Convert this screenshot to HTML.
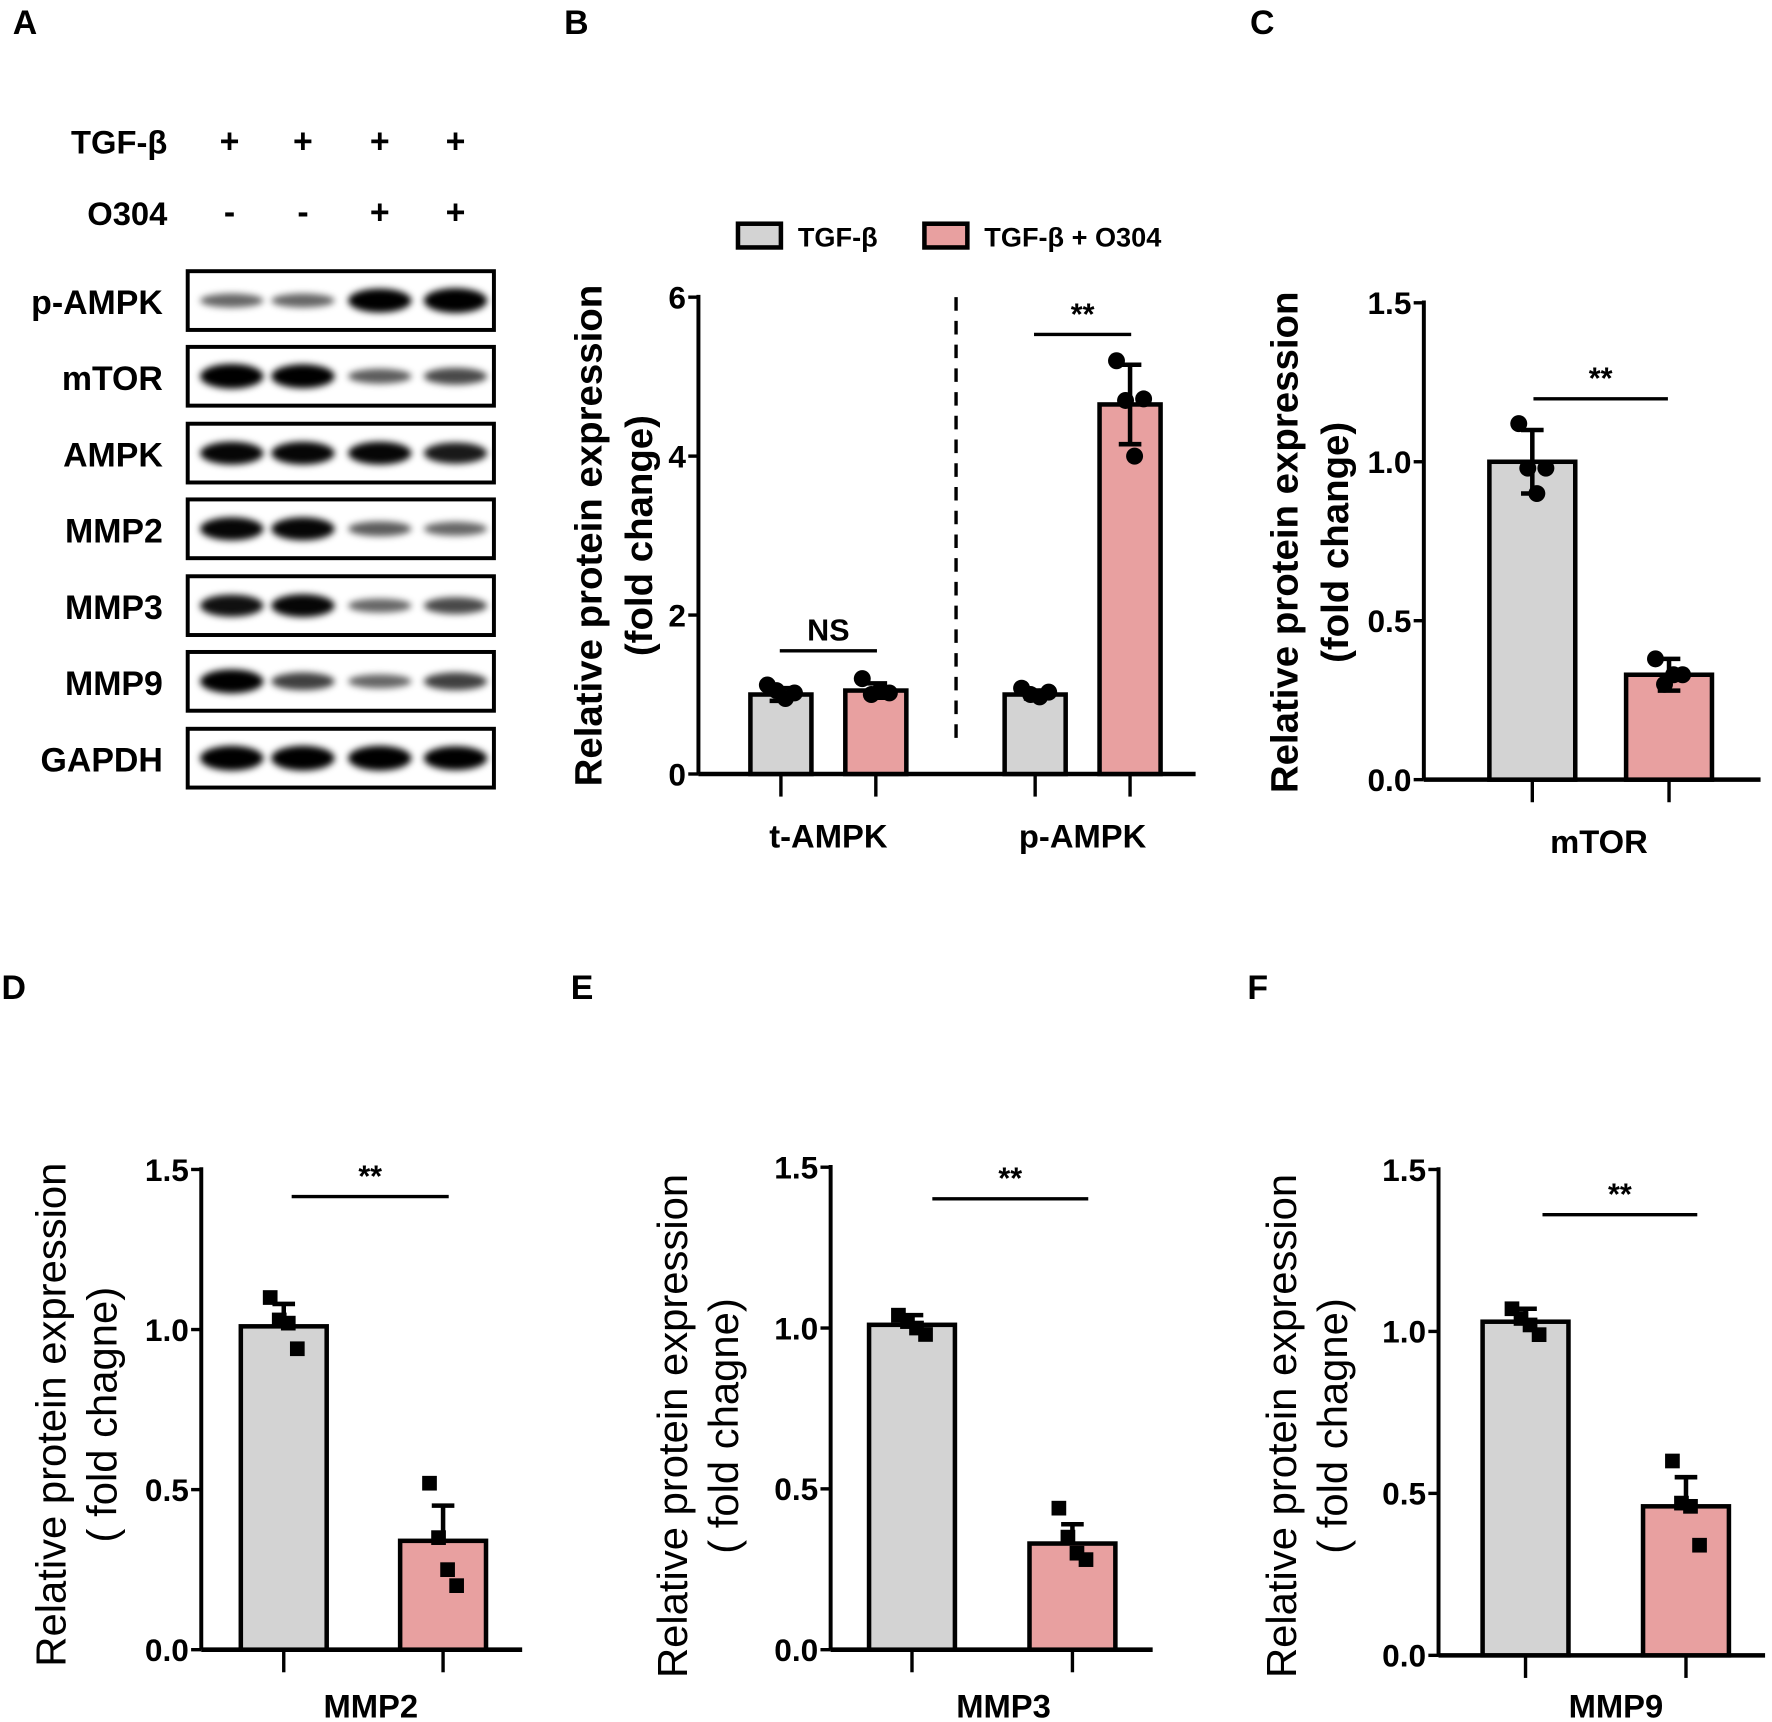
<!DOCTYPE html>
<html><head><meta charset="utf-8"><style>
html,body{margin:0;padding:0;background:#fff;}
svg{display:block;font-family:"Liberation Sans",Arial,sans-serif;}
</style></head><body>
<svg id="fig" width="1772" height="1722" viewBox="0 0 1568 1524" xmlns="http://www.w3.org/2000/svg">
<defs><filter id="blur" x="-20%" y="-100%" width="140%" height="300%"><feGaussianBlur stdDeviation="3"/></filter></defs>
</svg>
<script>
// ---- Panel A western blot data (band intensity 0..1) ----
const blotProteins = ["p-AMPK","mTOR","AMPK","MMP2","MMP3","MMP9","GAPDH"];
const blotIntensity = [[0.4,0.4,0.95,1.0],[1.0,0.95,0.45,0.55],[0.9,0.9,0.9,0.8],[0.9,0.9,0.45,0.4],[0.85,0.9,0.4,0.55],[0.95,0.6,0.4,0.6],[1.0,1.0,1.0,0.95]];
const tgfRow = ["+","+","+","+"];
const o304Row = ["-","-","+","+"];
// ---- Panel B ----
const bCategories = ["t-AMPK","p-AMPK"];
const bTicks = [0,2,4,6];
const bGray = [1.0,1.0];
const bPink = [1.05,4.65];
const bGrayErr = [0.08,0.05];
const bPinkErr = [0.09,0.5];
const bGrayPts = [[1.12,1.05,0.95,1.02],[1.08,1.0,0.97,1.03]];
const bPinkPts = [[1.2,1.0,1.05,1.02],[5.2,4.7,4.0,4.72]];
const bSig = ["NS","**"];
// ---- Panel C ----
const cTicks = [0,0.5,1.0,1.5];
const cValues = [1.0,0.33];
const cErr = [0.1,0.05];
const cPts = [[1.12,0.98,0.9,0.98],[0.38,0.3,0.33,0.33]];
// ---- Panels D,E,F ----
const dValues = [1.01,0.34];
const dErr = [0.07,0.11];
const dPts = [[1.1,1.03,1.02,0.94],[0.52,0.35,0.25,0.2]];
const eValues = [1.01,0.33];
const eErr = [0.03,0.06];
const ePts = [[1.04,1.02,1.0,0.98],[0.44,0.35,0.3,0.28]];
const fValues = [1.03,0.46];
const fErr = [0.04,0.09];
const fPts = [[1.07,1.04,1.02,0.99],[0.6,0.47,0.46,0.34]];

const NS="http://www.w3.org/2000/svg";
const svg=document.getElementById('fig');
function el(tag,attrs,parent){const e=document.createElementNS(NS,tag);for(const k in attrs)e.setAttribute(k,attrs[k]);(parent||svg).appendChild(e);return e;}
function txt(s,x,y,attrs,parent){const t=el('text',Object.assign({x:x,y:y},attrs),parent);t.textContent=s;return t;}
const GRAY="#d3d3d3",PINK="#e8a0a0";

[["A",22,30],["B",510,30],["C",1117,30],["D",12,884],["E",515,884],["F",1113,884]].forEach(p=>{
  const t=txt(p[0],p[1],p[2],{"font-size":30,"font-weight":"bold","text-anchor":"middle"});
  
  
});

// ---- Panel A ----
const laneX=[203,268,336,403];
const ta=txt("TGF-β",148,136,{"font-size":29,"font-weight":"bold","text-anchor":"end"});


const tb=txt("O304",148,199,{"font-size":29,"font-weight":"bold","text-anchor":"end"});


tgfRow.forEach((s,i)=>{const t=txt(s,laneX[i],135,{"font-size":30,"font-weight":"bold","text-anchor":"middle"});
  
  });
o304Row.forEach((s,i)=>{const t=txt(s,laneX[i],198,{"font-size":30,"font-weight":"bold","text-anchor":"middle"});
  
  });
const blotTop=[240,307,375,442,510,577,645];
const laneBand=[205,268,336,403];
blotProteins.forEach((p,r)=>{
  const y0=blotTop[r];
  const g=el('g',{});
  
  
  const lab=txt(p,144,y0+38,{"font-size":30,"font-weight":"bold","text-anchor":"end"},g);
  
  
  el('rect',{x:166,y:y0,width:271,height:52,fill:"#fff"},g);
  const bg=el('g',{filter:"url(#blur)"},g);
  blotIntensity[r].forEach((v,i)=>{
    const band=el('ellipse',{cx:laneBand[i],cy:y0+26,rx:28,ry:3+8*v,fill:"#000","fill-opacity":Math.min(1,0.3+0.75*v)},bg);
    
    
  });
  el('rect',{x:166,y:y0,width:271,height:52,fill:"none",stroke:"#000","stroke-width":3.5},g);
});

function drawBar(g,cx,w,y0,yv,fill){
  const r=el('rect',{x:cx-w/2,y:Math.min(yv,y0),width:w,height:Math.abs(y0-yv),fill:fill,stroke:"#000","stroke-width":4},g);
  
  
}
function drawErr(g,cx,yTop,yBot,cap,yBar){
  const yb=(yBot===null)?yBar:yBot;
  el('line',{x1:cx,x2:cx,y1:yTop,y2:yb,stroke:"#000","stroke-width":4},g);
  el('line',{x1:cx-cap,x2:cx+cap,y1:yTop,y2:yTop,stroke:"#000","stroke-width":4},g);
  if(yBot!==null) el('line',{x1:cx-cap,x2:cx+cap,y1:yBot,y2:yBot,stroke:"#000","stroke-width":4},g);
}
const offs=[-12,-4,4,12];
function drawPts(g,cx,vals,ys,shape){
  vals.forEach((v,i)=>{
    const y=ys(v),x=cx+offs[i];
    let p;
    if(shape==='c') p=el('circle',{cx:x,cy:y,r:7.5,fill:"#000"},g);
    else p=el('rect',{x:x-6.5,y:y-6.5,width:13,height:13,fill:"#000"},g);
    
    
  });
}
function yLabel(g,lines,x,y,bold,size){
  lines.forEach((s,i)=>{
    const t=txt(s,0,0,{"font-size":size,"font-weight":bold?"bold":"normal","text-anchor":"middle",transform:`translate(${x+i*45},${y}) rotate(-90)`},g);
    
    
  });
}
function sigLine(g,x1,x2,y,s){
  el('line',{x1:x1,x2:x2,y1:y,y2:y,stroke:"#000","stroke-width":3},g);
  const t=txt(s,(x1+x2)/2,y-9,{"font-size":27,"font-weight":"bold","text-anchor":"middle"},g);
  
  
}
function axes(g,ax,y0,yTop,xEnd,ticks,ys,fmt){
  el('line',{x1:ax,x2:ax,y1:yTop-2,y2:y0,stroke:"#000","stroke-width":3.5},g);
  el('line',{x1:ax,x2:xEnd,y1:y0,y2:y0,stroke:"#000","stroke-width":4},g);
  ticks.forEach(v=>{
    const y=ys(v);
    el('line',{x1:ax-9,x2:ax,y1:y,y2:y,stroke:"#000","stroke-width":3},g);
    const t=txt(fmt(v),ax-11,y+10,{"font-size":28,"font-weight":"bold","text-anchor":"end"},g);
    
    
  });
}

// ---- Panel B ----
(function(){
  const g=el('g',{});
  
  
  const ax=618,y0=685,yTop=263;
  const ys=v=>y0-(v/6)*(y0-yTop);
  axes(g,ax,y0,yTop,1058,bTicks,ys,v=>String(v));
  const grayX=[691,916],pinkX=[775,1000],sigY=[576,296];
  bCategories.forEach((c,i)=>{
    drawBar(g,grayX[i],54,y0,ys(bGray[i]),GRAY);
    drawBar(g,pinkX[i],54,y0,ys(bPink[i]),PINK);
    drawErr(g,grayX[i],ys(bGray[i]+bGrayErr[i]),ys(bGray[i]-bGrayErr[i]),10);
    drawErr(g,pinkX[i],ys(bPink[i]+bPinkErr[i]),ys(bPink[i]-bPinkErr[i]),10);
    drawPts(g,grayX[i],bGrayPts[i],ys,'c');
    drawPts(g,pinkX[i],bPinkPts[i],ys,'c');
    [grayX[i],pinkX[i]].forEach(x=>el('line',{x1:x,x2:x,y1:y0,y2:y0+20,stroke:"#000","stroke-width":3},g));
    const t=txt(c,(grayX[i]+pinkX[i])/2,y0+65,{"font-size":29,"font-weight":"bold","text-anchor":"middle"},g);
    
    
    sigLine(g,grayX[i]-1,pinkX[i]+1,sigY[i],bSig[i]);
  });
  el('line',{x1:846,x2:846,y1:263,y2:662,stroke:"#000","stroke-width":3,"stroke-dasharray":"12,9"},g);
  yLabel(g,["Relative protein expression","(fold change)"],532,474,true,34);
  const lg=el('g',{},g);
  
  
  el('rect',{x:653,y:198,width:38,height:21,fill:GRAY,stroke:"#000","stroke-width":4},lg);
  txt("TGF-β",706,218,{"font-size":24,"font-weight":"bold"},lg);
  el('rect',{x:818,y:198,width:38,height:21,fill:PINK,stroke:"#000","stroke-width":4},lg);
  txt("TGF-β + O304",871,218,{"font-size":24,"font-weight":"bold"},lg);
})();

function twoBar(name,cfg){
  const g=el('g',{});
  
  
  const ys=v=>cfg.y0-(v/1.5)*(cfg.y0-cfg.yTop);
  axes(g,cfg.ax,cfg.y0,cfg.yTop,cfg.xEnd,cTicks,ys,v=>v.toFixed(1));
  const xs=cfg.xs,cols=[GRAY,PINK];
  cfg.values.forEach((v,i)=>{
    drawBar(g,xs[i],76,cfg.y0,ys(v),cols[i]);
    drawErr(g,xs[i],ys(v+cfg.err[i]),cfg.sd?ys(v-cfg.err[i]):null,10,ys(v));
    drawPts(g,xs[i],cfg.pts[i],ys,cfg.shape);
    el('line',{x1:xs[i],x2:xs[i],y1:cfg.y0,y2:cfg.y0+20,stroke:"#000","stroke-width":3},g);
  });
  sigLine(g,xs[0]+cfg.sigIn,xs[1]+cfg.sigOut,cfg.sigY,"**");
  const t=txt(cfg.label,cfg.labelX,cfg.labelY,{"font-size":29,"font-weight":"bold","text-anchor":"middle"},g);
  
  
  yLabel(g,cfg.ylines,cfg.ylx,cfg.yly,cfg.ybold,cfg.ysize);
}
twoBar('panel-c-chart',{ax:1260,y0:690,yTop:268,xEnd:1558,xs:[1356,1477],values:cValues,err:cErr,pts:cPts,shape:'c',sd:true,sigIn:1,sigOut:-1,sigY:353,label:"mTOR",labelX:1415,labelY:755,ylines:["Relative protein expression","(fold change)"],ylx:1148,yly:480,ybold:true,ysize:34});
twoBar('panel-d-chart',{ax:178,y0:1460,yTop:1035,xEnd:462,xs:[251,392],values:dValues,err:dErr,pts:dPts,shape:'s',sd:false,sigIn:7,sigOut:5,sigY:1059,label:"MMP2",labelX:328,labelY:1520,ylines:["Relative protein expression","( fold chagne)"],ylx:58,yly:1252,ybold:false,ysize:37});
twoBar('panel-e-chart',{ax:735,y0:1460,yTop:1033,xEnd:1020,xs:[807,949],values:eValues,err:eErr,pts:ePts,shape:'s',sd:false,sigIn:18,sigOut:14,sigY:1061,label:"MMP3",labelX:888,labelY:1520,ylines:["Relative protein expression","( fold chagne)"],ylx:608,yly:1262,ybold:false,ysize:37});
twoBar('panel-f-chart',{ax:1273,y0:1465,yTop:1035,xEnd:1562,xs:[1350,1492],values:fValues,err:fErr,pts:fPts,shape:'s',sd:false,sigIn:15,sigOut:10,sigY:1075,label:"MMP9",labelX:1430,labelY:1520,ylines:["Relative protein expression","( fold chagne)"],ylx:1147,yly:1262,ybold:false,ysize:37});
</script>
</body></html>
